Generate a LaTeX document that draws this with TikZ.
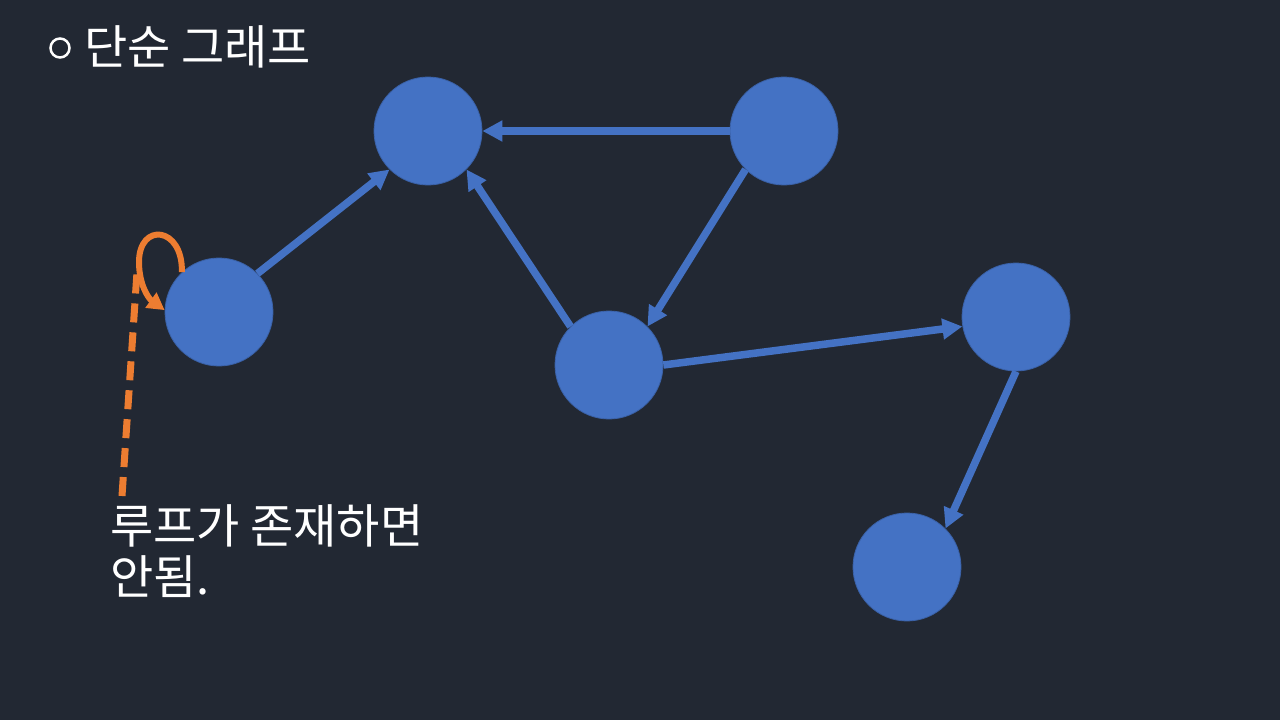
\documentclass[tikz,border=0pt]{standalone}
\usepackage{fontspec}
\newfontfamily\kr{Noto Sans CJK KR}
\usetikzlibrary{arrows.meta}
\definecolor{bg}{HTML}{222833}
\definecolor{nodeblue}{HTML}{4472C4}
\definecolor{loopor}{HTML}{ED7D31}
\tikzset{
  vert/.style={circle, fill=nodeblue, draw=nodeblue!85!black, line width=0.8pt, minimum size=108pt, inner sep=0pt},
  edge/.style={draw=nodeblue, line width=7.5pt, -{Triangle[length=20pt,width=20pt]}},
  loopline/.style={draw=loopor, line width=6pt},
  lbl/.style={text=white, font=\kr\fontsize{47}{54}\selectfont, inner sep=0pt}
}
\begin{document}
\begin{tikzpicture}[x=1pt,y=-1pt]
\fill[bg] (0,0) rectangle (1280,720);
\useasboundingbox (0,0) rectangle (1280,720);
% vertices
\node[vert] (A) at (428,131) {};
\node[vert] (B) at (784,131) {};
\node[vert] (C) at (219,312) {};
\node[vert] (D) at (609,365) {};
\node[vert] (E) at (1016,317) {};
\node[vert] (F) at (907,567) {};
% edges
\draw[edge] (C.45) -- (A.225);
\draw[edge] (B.west) -- (A.east);
\draw[edge] (D.135) -- (A.-45);
\draw[edge] (B.225) -- (D.45);
\draw[edge] (D.0) -- (E.190);
\draw[edge] (E.south) -- (F.45);
% loop
\draw[loopline, -{Triangle[length=17pt,width=18pt]}] (C.133) .. controls (183,226) and (139,222) .. (139,262) .. controls (139,284) and (148,298) .. (C.178);
% dashed pointer
\coordinate (p1) at (122,496);
\coordinate (p2) at (137,272);
\draw[loopor, line width=7pt, dash pattern=on 19pt off 10pt] (p1) -- (p2);
% title
\node[circle, draw=white, line width=2.5pt, minimum size=19pt, inner sep=0pt] (bul) at (60,48) {};
\node[lbl, anchor=base west] (title) at (84,64) {단순 그래프};
% note
\node[lbl, anchor=base west] (t1) at (110,543) {루프가 존재하면};
\node[lbl, anchor=base west] (t2) at (110,594) {안됨.};
\end{tikzpicture}
\end{document}
